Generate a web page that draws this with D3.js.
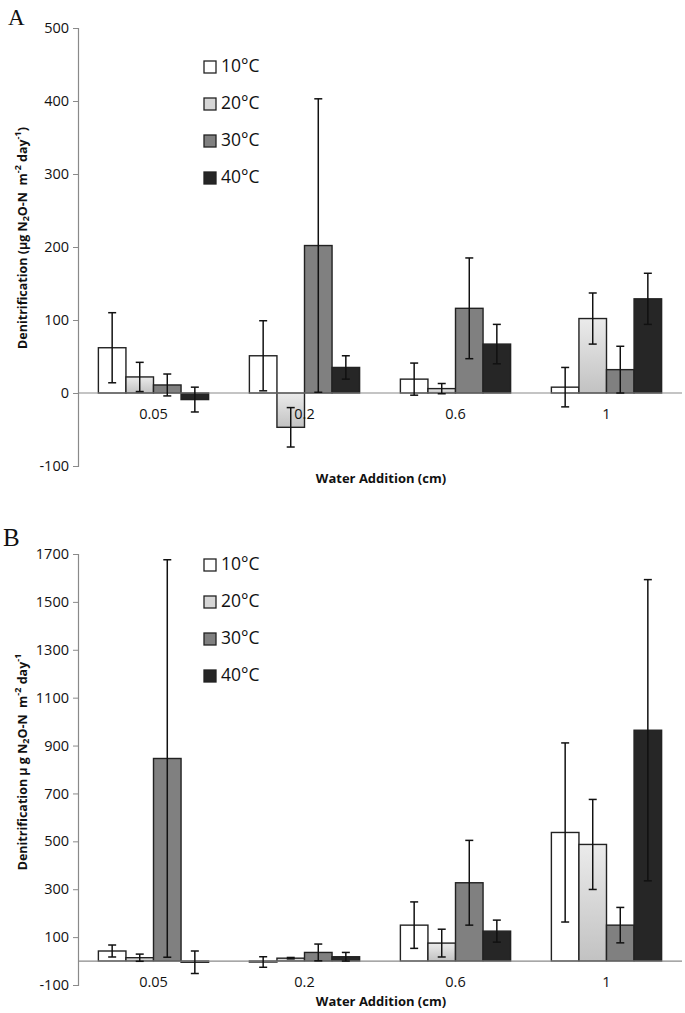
<!DOCTYPE html>
<html><head><meta charset="utf-8">
<script src="https://cdn.jsdelivr.net/npm/d3@7"></script>
<style>body{margin:0;background:#fff}svg{display:block}</style>
</head><body>
<svg id="chart" width="685" height="1013" font-family="'Open Sans', Lato, sans-serif"></svg>
<script>
const categories = ["0.05", "0.2", "0.6", "1"];
const seriesNames = ["10°C", "20°C", "30°C", "40°C"];

// Panel A values and error (± SE)
const a10 = [62, 51, 19, 8],     a10err = [48, 48, 22, 27];
const a20 = [22, -47, 6, 102],   a20err = [20, 27, 7, 35];
const a30 = [11, 202, 116, 32],  a30err = [15, 201, 69, 32];
const a40 = [-9, 35, 67, 129],   a40err = [17, 16, 27, 35];
const aTicks = [-100, 0, 100, 200, 300, 400, 500];

// Panel B values and error
const b10 = [42, -4, 150, 537],  b10err = [25, 22, 97, 374];
const b20 = [14, 12, 75, 487],   b20err = [15, 3, 58, 188];
const b30 = [846, 36, 327, 150], b30err = [830, 35, 177, 74];
const b40 = [-5, 18, 125, 964],  b40err = [47, 18, 46, 629];
const bTicks = [-100, 100, 300, 500, 700, 900, 1100, 1300, 1500, 1700];

const svg = d3.select("#chart");
const defs = svg.append("defs");
const grad = defs.append("linearGradient").attr("id", "g20").attr("x1", 0).attr("y1", 0).attr("x2", 0).attr("y2", 1);
grad.append("stop").attr("offset", "0%").attr("stop-color", "#ebebeb");
grad.append("stop").attr("offset", "100%").attr("stop-color", "#c2c2c2");
const fills = ["#ffffff", "url(#g20)", "#808080", "#262626"];
const legendFills = ["#ffffff", "#d6d6d6", "#808080", "#262626"];

function panel(cfg) {
  const g = svg.append("g");
  const x = d3.scaleBand().domain(categories).range([78, 682]).paddingInner(0.27).paddingOuter(0.135);
  const xs = d3.scaleBand().domain(seriesNames).range([0, x.bandwidth()]);
  const y = d3.scaleLinear().domain(cfg.domain).range(cfg.range);

  // y axis
  const yAxis = d3.axisLeft(y).tickValues(cfg.ticks).tickSize(5).tickPadding(4).tickFormat(d => String(d));
  const ya = g.append("g").attr("transform", "translate(78,0)").call(yAxis);
  ya.attr("font-family", null);
  ya.select(".domain").attr("stroke", "#8a8a8a").attr("stroke-width", 1.2);
  ya.selectAll(".tick line").attr("stroke", "#8a8a8a");
  ya.selectAll(".tick text").attr("font-size", 14.5).attr("fill", "#111");

  // bars
  cfg.values.forEach((vals, si) => {
    const bg = g.append("g");
    bg.selectAll("rect").data(vals).join("rect")
      .attr("x", (d, i) => x(categories[i]) + xs(seriesNames[si]))
      .attr("width", xs.bandwidth())
      .attr("y", d => Math.min(y(d), y(0)))
      .attr("height", d => Math.abs(y(d) - y(0)))
      .attr("fill", fills[si]).attr("stroke", "#222").attr("stroke-width", 1.4);
  });
  // zero line
  g.append("line").attr("x1", 78).attr("x2", 682).attr("y1", y(0)).attr("y2", y(0))
    .attr("stroke", "#8a8a8a").attr("stroke-width", 1.2);
  // error bars
  cfg.values.forEach((vals, si) => {
    const errs = cfg.errs[si];
    const eg = g.append("g").attr("stroke", "#111").attr("stroke-width", 1.5);
    vals.forEach((v, i) => {
      const cx = x(categories[i]) + xs(seriesNames[si]) + xs.bandwidth() / 2;
      const top = y(v + errs[i]), bot = y(v - errs[i]);
      eg.append("line").attr("x1", cx).attr("x2", cx).attr("y1", top).attr("y2", bot);
      eg.append("line").attr("x1", cx - 4).attr("x2", cx + 4).attr("y1", top).attr("y2", top);
      eg.append("line").attr("x1", cx - 4).attr("x2", cx + 4).attr("y1", bot).attr("y2", bot);
    });
  });
  // category labels
  g.selectAll("text.cat").data(categories).join("text").attr("class", "cat")
    .attr("x", d => x(d) + x.bandwidth() / 2).attr("y", cfg.catY)
    .attr("text-anchor", "middle").attr("dominant-baseline", "middle")
    .attr("font-size", 14.5).attr("fill", "#111").text(d => d);
  // x title
  g.append("text").attr("x", 381).attr("y", cfg.xTitleY).attr("text-anchor", "middle")
    .attr("dominant-baseline", "middle").attr("font-size", 13).attr("font-weight", "bold")
    .attr("fill", "#111").text("Water Addition (cm)");
  // y title
  const yt = g.append("text").attr("transform", `translate(24,${cfg.yTitleY}) rotate(-90)`)
    .attr("text-anchor", "middle").attr("dominant-baseline", "middle")
    .attr("font-size", 12.5).attr("font-weight", "bold").attr("fill", "#111")
    .attr("xml:space", "preserve").style("white-space", "pre");
  cfg.yTitle(yt);
  // legend
  seriesNames.forEach((s, i) => {
    const ly = cfg.legendY[i];
    g.append("rect").attr("x", 204).attr("y", ly - 6).attr("width", 12).attr("height", 12)
      .attr("fill", legendFills[i]).attr("stroke", "#222").attr("stroke-width", 1.3);
    g.append("text").attr("x", 221).attr("y", ly).attr("dominant-baseline", "middle")
      .attr("font-size", 17.5).attr("fill", "#111").text(s);
  });
  // panel letter
  g.append("text").attr("x", cfg.letterX).attr("y", cfg.letterY)
    .attr("font-family", "'Liberation Serif', 'DejaVu Serif', serif").attr("font-size", cfg.letterSize)
    .attr("fill", "#111").text(cfg.letter);
}

panel({
  domain: [-100, 500], range: [466, 28], ticks: aTicks,
  values: [a10, a20, a30, a40], errs: [a10err, a20err, a30err, a40err],
  catY: 415, xTitleY: 480, yTitleY: 238,
  legendY: [67, 104, 141, 178],
  letter: "A", letterX: 8, letterY: 25, letterSize: 23,
  yTitle: t => {
    t.append("tspan").text("Denitrification (µg N");
    t.append("tspan").attr("font-size", 9).attr("dy", 3).text("2");
    t.append("tspan").attr("dy", -3).text("O-N  m");
    t.append("tspan").attr("font-size", 9).attr("dy", -5).text("-2");
    t.append("tspan").attr("dy", 5).text(" day");
    t.append("tspan").attr("font-size", 9).attr("dy", -5).text("-1");
    t.append("tspan").attr("dy", 5).text(")");
  }
});

panel({
  domain: [-100, 1700], range: [985, 554], ticks: bTicks,
  values: [b10, b20, b30, b40], errs: [b10err, b20err, b30err, b40err],
  catY: 983, xTitleY: 1003, yTitleY: 762,
  legendY: [565, 602, 639, 676],
  letter: "B", letterX: 3, letterY: 546, letterSize: 25,
  yTitle: t => {
    t.append("tspan").text("Denitrification µ g N");
    t.append("tspan").attr("font-size", 9).attr("dy", 3).text("2");
    t.append("tspan").attr("dy", -3).text("O-N  m");
    t.append("tspan").attr("font-size", 9).attr("dy", -5).text("-2");
    t.append("tspan").attr("dy", 5).text(" day");
    t.append("tspan").attr("font-size", 9).attr("dy", -5).text("-1");
  }
});
</script>
</body></html>
